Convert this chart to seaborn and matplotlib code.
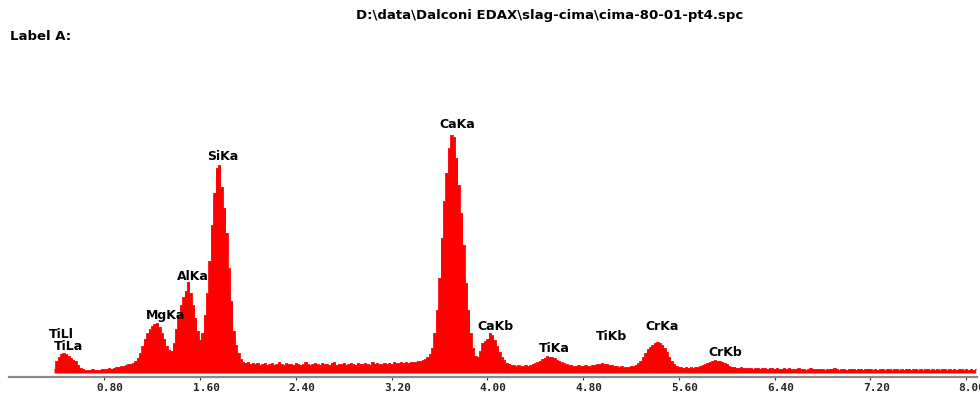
import numpy as np
import pandas as pd
import matplotlib
matplotlib.use("Agg")
import matplotlib.pyplot as plt
from matplotlib.transforms import ScaledTranslation
import seaborn as sns

# ---------------- data ----------------
TITLE = r"D:\data\Dalconi EDAX\slag-cima\cima-80-01-pt4.spc"
LABEL = "Label A:"

# channel calibration (keV)
E_START = 0.38
E_STEP = 0.02

# counts per channel (0.38 keV ... 8.08 keV)
counts = [
    4, 12, 16, 19, 20, 19, 17, 15, 13, 12,      # 0.38
    8, 5, 4, 3, 3, 3, 4, 3, 3, 3,               # 0.58
    4, 4, 4, 5, 4, 5, 6, 6, 7, 7,               # 0.78
    8, 9, 9, 10, 12, 15, 20, 27, 34, 40,        # 0.98
    44, 47, 49, 50, 46, 40, 34, 27, 23, 22,     # 1.18
    30, 44, 58, 68, 76, 82, 91, 80, 68, 55,     # 1.38
    42, 33, 40, 58, 80, 112, 148, 180, 205, 208,  # 1.58
    186, 165, 140, 105, 72, 42, 28, 20, 14, 11,   # 1.78
    10, 11, 9, 10, 9, 10, 8, 9, 10, 8,          # 1.98
    9, 10, 8, 9, 11, 9, 8, 10, 9, 9,            # 2.18
    8, 10, 9, 8, 9, 11, 9, 8, 9, 10,            # 2.38
    9, 8, 10, 9, 9, 8, 10, 11, 8, 9,            # 2.58
    9, 10, 8, 9, 10, 9, 8, 10, 9, 9,            # 2.78
    10, 9, 8, 11, 9, 10, 9, 9, 10, 9,           # 2.98
    10, 9, 11, 10, 10, 11, 10, 11, 10, 11,      # 3.18
    11, 11, 12, 12, 13, 14, 16, 19, 25, 40,     # 3.38
    63, 95, 135, 172, 200, 225, 238, 236, 215, 188,  # 3.58
    160, 128, 90, 63, 40, 25, 17, 16, 22, 30,   # 3.78
    32, 34, 40, 38, 33, 27, 21, 16, 13, 10,     # 3.98
    9, 8, 8, 7, 8, 7, 7, 8, 7, 8,               # 4.18
    9, 10, 11, 12, 14, 15, 17, 16, 16, 15,      # 4.38
    13, 12, 11, 10, 9, 8, 8, 7, 7, 8,           # 4.58
    7, 7, 8, 7, 7, 8, 8, 9, 9, 10,              # 4.78
    9, 9, 8, 8, 7, 7, 6, 7, 6, 6,               # 4.98
    6, 7, 7, 8, 10, 12, 16, 20, 24, 26,         # 5.18
    28, 30, 31, 30, 28, 25, 21, 16, 12, 9,      # 5.38
    7, 6, 6, 5, 6, 5, 6, 5, 6, 6,               # 5.58
    7, 8, 9, 10, 11, 12, 13, 12, 12, 11,        # 5.78
    10, 9, 7, 6, 6, 5, 5, 6, 5, 5,              # 5.98
    5, 5, 4, 5, 5, 4, 5, 5, 4, 5,               # 6.18
    5, 4, 5, 4, 4, 5, 4, 5, 4, 4,               # 6.38
    4, 5, 4, 4, 3, 4, 5, 4, 4, 4,               # 6.58
    4, 4, 3, 4, 4, 4, 5, 4, 3, 4,               # 6.78
    4, 3, 4, 4, 4, 3, 4, 4, 3, 4,               # 6.98
    4, 4, 3, 4, 3, 4, 4, 3, 4, 4,               # 7.18
    3, 4, 4, 3, 4, 3, 4, 4, 3, 4,               # 7.38
    4, 3, 4, 3, 4, 4, 3, 4, 3, 4,               # 7.58
    3, 4, 4, 3, 4, 3, 4, 3, 4, 4,               # 7.78
    3, 4, 3, 4, 3, 4,                           # 7.98
]

# x-axis ticks
tick_values = [0.80, 1.60, 2.40, 3.20, 4.00, 4.80, 5.60, 6.40, 7.20, 8.00]
tick_labels = ["0.80", "1.60", "2.40", "3.20", "4.00", "4.80", "5.60", "6.40", "7.20", "8.00"]

# peak identification labels
peak_names = ["TiLl", "TiLa", "MgKa", "AlKa", "SiKa", "CaKa", "CaKb", "TiKa", "TiKb", "CrKa", "CrKb"]
peak_label_kev = [0.44, 0.50, 1.315, 1.54, 1.79, 3.75, 4.07, 4.56, 5.04, 5.46, 5.99]
peak_label_cnt = [38, 26, 58, 97, 217, 248, 47, 24, 36, 47, 20]

# ---------------- figure ----------------
energy = E_START + E_STEP * np.arange(len(counts))
df = pd.DataFrame({"keV": energy, "counts": counts})

sns.set_theme(style="white")
plt.rcParams["font.family"] = ["DejaVu Sans"]

W, H = 980, 396
fig = plt.figure(figsize=(W / 100, H / 100), dpi=100)
x0_px, x1_px = 8.55, 977.0
bot_px, top_px = 377.0, 100.0
ax = fig.add_axes([x0_px / W, (H - bot_px) / H, (x1_px - x0_px) / W, (bot_px - top_px) / H])

RED = "#ff0000"
ax.fill_between(df["keV"], 0, df["counts"], step="mid", color=RED, linewidth=0)
sns.lineplot(data=df, x="keV", y="counts", ax=ax, color=RED, linewidth=0.6,
             drawstyle="steps-mid", legend=False)

px_per_kev = 119.7
ax.set_xlim(0, (x1_px - x0_px) / px_per_kev)
ax.set_ylim(-4, bot_px - top_px - 4)

for name, xk, yc in zip(peak_names, peak_label_kev, peak_label_cnt):
    ax.text(xk, yc, name, ha="center", va="center", fontsize=9,
            fontweight="bold", color="black")

ax.set_xlabel("")
ax.set_ylabel("")
ax.set_yticks([])
for s in ["top", "right", "left"]:
    ax.spines[s].set_visible(False)
ax.spines["bottom"].set_color("#8a8a8a")
ax.spines["bottom"].set_linewidth(1.6)

ax.set_xticks(tick_values)
ax.set_xticklabels(tick_labels, fontfamily="DejaVu Sans Mono", fontweight="bold",
                   fontsize=8)
ax.tick_params(axis="x", direction="out", length=2.5, width=0.8, color="#333333",
               pad=1.5, bottom=True)
off = ScaledTranslation(6 / 100, 0, fig.dpi_scale_trans)
for lab in ax.get_xticklabels():
    lab.set_transform(lab.get_transform() + off)

fig.text(550 / W, 1 - 15 / H, TITLE, ha="center", va="center", fontsize=9.5,
         fontweight="bold", color="black")
fig.text(10 / W, 1 - 37 / H, LABEL, ha="left", va="center", fontsize=9.5,
         fontweight="bold", color="black")

fig.savefig("out.png", dpi=100, facecolor="white")
